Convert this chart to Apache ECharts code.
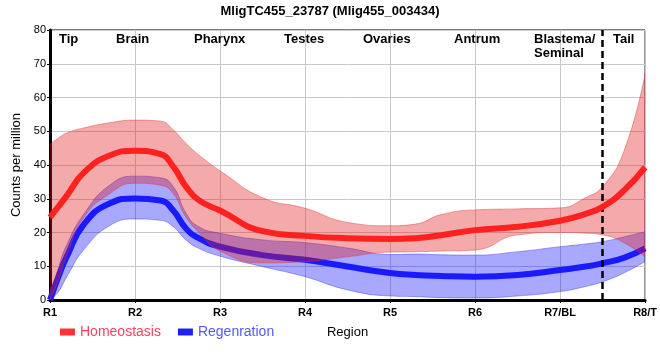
<!DOCTYPE html>
<html><head><meta charset="utf-8">
<script src="https://cdn.jsdelivr.net/npm/echarts@6/dist/echarts.min.js"></script>
<style>html,body{margin:0;padding:0;background:#fff}#c{width:660px;height:360px}</style>
</head><body><div id="c"></div>
<script>
// x positions along body axis (0 = R1 ... 7 = R8/T)
const xPos = [0, 0.1, 0.2, 0.4, 0.7, 1.0, 1.3, 1.45, 1.6, 1.75, 2.0, 2.5, 3.0, 3.5, 4.0, 4.3, 4.6, 5.0, 5.5, 6.0, 6.3, 6.5, 6.75, 7.0];
const homeMean  = [24.5, 27.7, 31.0, 37.8, 42.8, 44.2, 43.2, 39.5, 33.6, 29.6, 26.5, 20.4, 19.0, 18.3, 18.1, 18.3, 19.2, 20.7, 21.7, 23.5, 25.5, 27.6, 32.4, 39.3];
const homeUpper = [46.0, 48.0, 49.5, 51.0, 52.5, 53.3, 53.0, 50.4, 46.4, 43.0, 38.3, 30.3, 27.2, 23.0, 22.0, 22.5, 25.3, 26.7, 27.0, 27.3, 30.3, 33.6, 44.0, 67.0];
const homeLower = [0.0, 6.0, 13.5, 24.5, 31.5, 34.6, 34.0, 31.5, 24.5, 20.0, 14.5, 11.0, 11.4, 12.8, 14.2, 14.3, 14.5, 14.8, 19.3, 20.0, 19.8, 19.3, 17.0, 12.8];
const regenMean  = [0.0, 7.0, 13.0, 22.5, 28.6, 30.1, 29.5, 26.5, 21.2, 18.3, 15.8, 13.3, 11.9, 9.9, 8.0, 7.4, 7.1, 6.9, 7.4, 8.9, 9.9, 10.9, 12.5, 15.3];
const regenUpper = [0.0, 9.5, 16.5, 25.5, 34.0, 36.7, 36.2, 33.6, 25.7, 21.7, 19.8, 17.8, 17.0, 15.4, 13.5, 13.6, 13.4, 13.3, 14.3, 15.8, 16.6, 17.3, 18.7, 20.2];
const regenLower = [0.0, 2.5, 7.0, 15.0, 22.0, 24.0, 23.6, 21.7, 17.8, 15.3, 13.0, 9.9, 6.9, 3.0, 1.2, 1.0, 0.7, 0.6, 1.2, 2.5, 4.0, 5.4, 8.0, 11.4];
const tickLabels = ['R1', 'R2', 'R3', 'R4', 'R5', 'R6', 'R7/BL', 'R8/T'];
const regionNames = ['Tip', 'Brain', 'Pharynx', 'Testes', 'Ovaries', 'Antrum', 'Blastema/\nSeminal', 'Tail'];
const regionLeft = [59, 116, 194, 284, 363, 454, 534, 613];
const boundaryAt = 6.5;

// time-type x axis (1 region step = 1000 units) so that stacking happens on y
const U = 1000;
const pairs = (ys) => xPos.map((x, i) => [x * U, ys[i]]);
const diffs = (hi, lo) => xPos.map((x, i) => [x * U, +(hi[i] - lo[i]).toFixed(2)]);

const FONT = 'Liberation Sans, Arial, sans-serif';
const SM = 0.5;

function band(name, lo, hi, fill, edge, z) {
  return [
    { name: name + 'L', type: 'line', stack: name, data: pairs(lo), smooth: SM,
      symbol: 'none', lineStyle: { width: 1, color: edge }, silent: true, z: z },
    { name: name + 'H', type: 'line', stack: name, data: diffs(hi, lo), smooth: SM,
      symbol: 'none', lineStyle: { width: 1, color: edge }, areaStyle: { color: fill, opacity: 1 }, silent: true, z: z }
  ];
}

const chart = echarts.init(document.getElementById('c'), null, { renderer: 'canvas' });
const option = {
  animation: false,
  backgroundColor: '#fff',
  title: { text: 'MligTC455_23787 (Mlig455_003434)', left: 'center', top: 0,
    textStyle: { fontFamily: FONT, fontSize: 13, fontWeight: 'bold', color: '#000' } },
  grid: { left: 50, right: 10, top: 30, bottom: 60, show: true, borderColor: '#000', borderWidth: 1, backgroundColor: 'transparent' },
  legend: {
    left: 55, top: 320, itemWidth: 15, itemHeight: 7, itemGap: 17, icon: 'rect',
    textStyle: { fontFamily: FONT, fontSize: 14 },
    data: [
      { name: 'Homeostasis', textStyle: { color: '#ff4060' } },
      { name: 'Regenration', textStyle: { color: '#5555ff' } }
    ]
  },
  xAxis: {
    type: 'time', min: 0, max: 7 * U, minInterval: U, maxInterval: U,
    name: 'Region', nameLocation: 'middle', nameGap: 26,
    nameTextStyle: { fontFamily: FONT, fontSize: 13, color: '#000' },
    axisLine: { show: true, lineStyle: { color: '#000', width: 3 } },
    axisTick: { show: true, length: 3, lineStyle: { color: '#000' } },
    axisLabel: { formatter: (v) => tickLabels[Math.round(v / U)] || '', fontFamily: FONT, fontSize: 11, fontWeight: 'bold', color: '#000', margin: 7, hideOverlap: false, showMinLabel: true, showMaxLabel: true },
    splitLine: { show: true, lineStyle: { color: '#c8c8c8', width: 1 } }
  },
  yAxis: {
    type: 'value', min: 0, max: 80, interval: 10,
    name: 'Counts per million', nameLocation: 'middle', nameGap: 27,
    nameTextStyle: { fontFamily: FONT, fontSize: 13, color: '#000' },
    axisLine: { show: true, lineStyle: { color: '#000', width: 3 } },
    axisTick: { show: true, length: 3, lineStyle: { color: '#000' } },
    axisLabel: { fontFamily: FONT, fontSize: 11, color: '#000', margin: 4 },
    splitLine: { show: true, lineStyle: { color: '#c8c8c8', width: 1 } }
  },
  graphic: regionNames.map((t, i) => ({
    type: 'text', left: regionLeft[i], top: 32, z: 100,
    style: { text: t, font: 'bold 13px ' + FONT, fill: '#000', lineHeight: 14 }
  })),
  series: [
    ...band('regenBand', regenLower, regenUpper, 'rgba(0,0,255,0.34)', 'rgba(60,60,230,0.45)', 2),
    { name: 'Regenration', type: 'line', data: pairs(regenMean), smooth: SM, symbol: 'none',
      color: '#2020ff', lineStyle: { width: 6, color: '#1a1aff' }, z: 3 },
    ...band('homeBand', homeLower, homeUpper, 'rgba(225,25,25,0.37)', 'rgba(220,60,60,0.45)', 4),
    { name: 'Homeostasis', type: 'line', data: pairs(homeMean), smooth: SM, symbol: 'none',
      color: '#ff3535', lineStyle: { width: 6, color: '#ff2020' }, z: 5,
      markLine: { silent: true, symbol: 'none', label: { show: false },
        lineStyle: { color: '#000', type: [7, 4], width: 2.5 },
        data: [[{ coord: [boundaryAt * U, 0] }, { coord: [boundaryAt * U, 80] }]] } }
  ]
};
chart.setOption(option);
</script>
</body></html>
